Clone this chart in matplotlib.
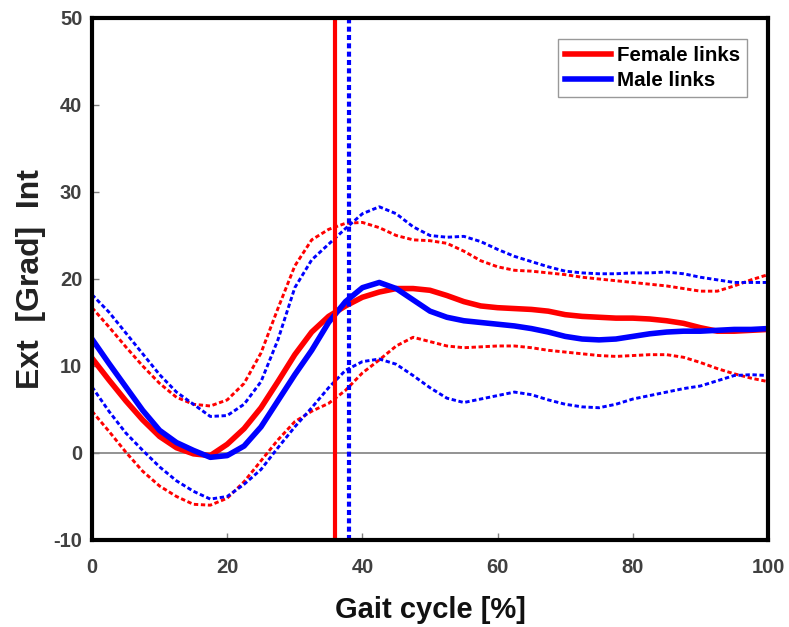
import matplotlib
matplotlib.use("Agg")
import matplotlib.pyplot as plt

plt.rcParams['font.family'] = ['Liberation Sans', 'DejaVu Sans']
plt.rcParams['font.weight'] = 'bold'
plt.rcParams['axes.unicode_minus'] = False

# gait cycle grid (%)
gait = [0, 2.5, 5, 7.5, 10, 12.5, 15, 17.5, 20, 22.5, 25, 27.5, 30, 32.5, 35, 37.5,
        40, 42.5, 45, 47.5, 50, 52.5, 55, 57.5, 60, 62.5, 65, 67.5, 70, 72.5, 75,
        77.5, 80, 82.5, 85, 87.5, 90, 92.5, 95, 97.5, 100]

female_mean = [10.9, 8.4, 6.0, 3.8, 1.9, 0.6, -0.1, -0.3, 1.0, 2.8, 5.2, 8.2, 11.3, 13.9,
               15.7, 16.9, 17.9, 18.5, 18.9, 18.9, 18.7, 18.1, 17.4, 16.9, 16.7, 16.6,
               16.5, 16.3, 15.9, 15.7, 15.6, 15.5, 15.5, 15.4, 15.2, 14.9, 14.4, 14.0,
               14.0, 14.1, 14.2]
female_upper = [16.7, 14.5, 12.2, 10.0, 8.0, 6.4, 5.6, 5.4, 6.1, 8.0, 11.5, 16.6, 21.5,
                24.5, 25.7, 26.4, 26.5, 25.9, 25.0, 24.5, 24.4, 24.1, 23.2, 22.1, 21.4,
                21.0, 20.9, 20.7, 20.5, 20.2, 20.0, 19.8, 19.6, 19.4, 19.2, 18.9, 18.6,
                18.6, 19.2, 19.9, 20.5]
female_lower = [4.8, 2.5, 0.1, -2.1, -3.8, -5.0, -5.9, -6.0, -5.2, -3.3, -0.9, 1.5, 3.6,
                4.8, 5.7, 7.2, 9.2, 10.7, 12.3, 13.3, 12.8, 12.3, 12.1, 12.2, 12.3, 12.3,
                12.1, 11.8, 11.6, 11.4, 11.2, 11.1, 11.2, 11.3, 11.3, 11.0, 10.4, 9.7,
                9.1, 8.6, 8.2]

male_mean = [13.1, 10.3, 7.6, 4.9, 2.6, 1.2, 0.3, -0.5, -0.3, 0.8, 3.0, 6.0, 9.0, 11.8,
             15.0, 17.4, 19.0, 19.6, 18.9, 17.6, 16.3, 15.6, 15.2, 15.0, 14.8, 14.6,
             14.3, 13.9, 13.4, 13.1, 13.0, 13.1, 13.4, 13.7, 13.9, 14.0, 14.0, 14.1,
             14.2, 14.2, 14.3]
male_upper = [18.2, 16.2, 13.8, 11.4, 9.0, 7.0, 5.6, 4.2, 4.3, 5.6, 8.2, 13.0, 19.0,
              22.2, 24.0, 25.8, 27.5, 28.3, 27.5, 26.0, 25.0, 24.8, 24.9, 24.3, 23.4,
              22.6, 22.0, 21.4, 20.9, 20.7, 20.6, 20.6, 20.7, 20.7, 20.8, 20.6, 20.2,
              19.9, 19.6, 19.6, 19.6]
male_lower = [7.6, 4.8, 2.3, 0.3, -1.6, -3.2, -4.4, -5.3, -5.0, -3.6, -1.9, 0.6, 3.0,
              5.2, 7.5, 9.5, 10.5, 10.8, 10.2, 8.9, 7.5, 6.3, 5.8, 6.2, 6.6, 7.0, 6.7,
              6.1, 5.6, 5.3, 5.2, 5.6, 6.2, 6.6, 7.0, 7.4, 7.7, 8.3, 8.9, 9.0, 8.9]

toe_off_female = 36
toe_off_male = 38

fig = plt.figure(figsize=(7.89, 6.27), dpi=100)
ax = fig.add_axes([0.1166, 0.1388, 0.8568, 0.8325])

red = '#ff0000'
blue = '#0000ff'
dots = (0, (1.5, 0.9))

ax.axhline(0, color='#808080', lw=1.2, zorder=1)

ax.plot(gait, female_upper, color=red, lw=2.1, ls=dots)
ax.plot(gait, female_lower, color=red, lw=2.1, ls=dots)
ax.plot(gait, male_upper, color=blue, lw=2.1, ls=dots)
ax.plot(gait, male_lower, color=blue, lw=2.1, ls=dots)

ax.plot(gait, female_mean, color=red, lw=4, label='Female links')
ax.plot(gait, male_mean, color=blue, lw=4, label='Male links')

ax.axvline(toe_off_female, color=red, lw=3)
ax.axvline(toe_off_male, color=blue, lw=3, ls=(0, (1.2, 0.8)))

ax.set_xlim(0, 100)
ax.set_ylim(-10, 50)
ax.set_xticks([0, 20, 40, 60, 80, 100])
ax.set_yticks([-10, 0, 10, 20, 30, 40, 50])

for s in ax.spines.values():
    s.set_linewidth(3)
    s.set_color('black')

ax.tick_params(direction='in', length=5, width=1, color='#808080',
               labelsize=14.5, labelcolor='#404040')
ax.tick_params(axis='x', pad=13)
ax.tick_params(axis='y', pad=7)
for lab in ax.get_xticklabels() + ax.get_yticklabels():
    lab.set_fontweight('bold')

ax.set_xlabel('Gait cycle [%]', fontsize=21, fontweight='bold', labelpad=14,
              color='#111111')
ax.set_ylabel('Ext  [Grad]  Int', fontsize=23, fontweight='bold', labelpad=5,
              color='#222222')

leg = ax.legend(loc='upper right', fontsize=14.8, frameon=True, fancybox=False,
                edgecolor='#808080', borderaxespad=1.0, handlelength=2.25,
                handletextpad=0.3, labelspacing=0.3, borderpad=0.35)
leg.get_frame().set_linewidth(1)
for t in leg.get_texts():
    t.set_fontweight('bold')

fig.savefig('out.png', dpi=100)
